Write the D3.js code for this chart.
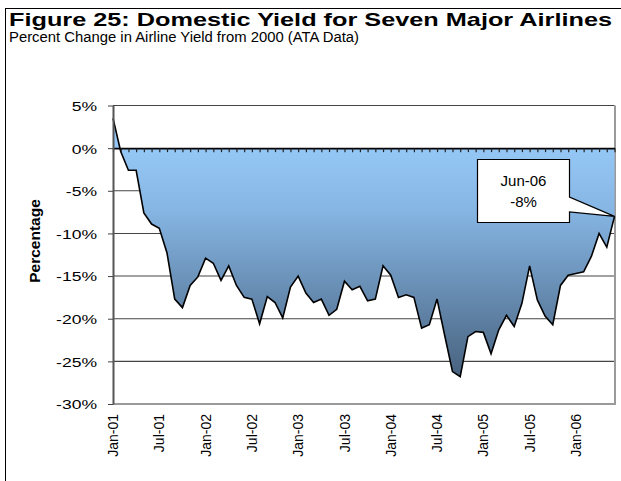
<!DOCTYPE html>
<html>
<head>
<meta charset="utf-8">
<script src="https://cdn.jsdelivr.net/npm/d3@7"></script>
<style>
  html, body { margin: 0; padding: 0; background: #fff; }
  svg { display: block; font-family: "Liberation Sans", Arial, sans-serif; }
</style>
</head>
<body>
<svg id="chart" width="621" height="481"></svg>
<script>
// Monthly categories, Jan-01 through Jun-06
const months = [
  "Jan-01","Feb-01","Mar-01","Apr-01","May-01","Jun-01","Jul-01","Aug-01","Sep-01","Oct-01","Nov-01","Dec-01",
  "Jan-02","Feb-02","Mar-02","Apr-02","May-02","Jun-02","Jul-02","Aug-02","Sep-02","Oct-02","Nov-02","Dec-02",
  "Jan-03","Feb-03","Mar-03","Apr-03","May-03","Jun-03","Jul-03","Aug-03","Sep-03","Oct-03","Nov-03","Dec-03",
  "Jan-04","Feb-04","Mar-04","Apr-04","May-04","Jun-04","Jul-04","Aug-04","Sep-04","Oct-04","Nov-04","Dec-04",
  "Jan-05","Feb-05","Mar-05","Apr-05","May-05","Jun-05","Jul-05","Aug-05","Sep-05","Oct-05","Nov-05","Dec-05",
  "Jan-06","Feb-06","Mar-06","Apr-06","May-06","Jun-06"
];

// Percent change in domestic yield versus 2000
const yieldChange = [
   3.5, -0.4, -2.6, -2.6, -7.6, -8.9, -9.4, -12.3, -17.7, -18.7, -16.1, -15.1,
  -12.9, -13.5, -15.5, -13.8, -16.1, -17.5, -17.7, -20.6, -17.4, -18.1, -19.9, -16.3,
  -15.0, -17.0, -18.1, -17.7, -19.6, -18.9, -15.6, -16.6, -16.2, -17.9, -17.7, -13.8,
  -14.9, -17.5, -17.2, -17.5, -21.1, -20.7, -17.7, -22.0, -26.2, -26.8, -22.1, -21.5,
  -21.6, -24.1, -21.3, -19.6, -20.9, -18.2, -13.8, -17.8, -19.7, -20.7, -16.1, -14.9,
  -14.7, -14.5, -12.7, -10.0, -11.6, -8.0
];

// Axis labels
const xTickLabels = ["Jan-01","Jul-01","Jan-02","Jul-02","Jan-03","Jul-03","Jan-04","Jul-04","Jan-05","Jul-05","Jan-06"];
const yTicks = [5, 0, -5, -10, -15, -20, -25, -30];

const svg = d3.select("#chart");

const plot = { left: 113, right: 614.5, top: 105.5, bottom: 404 };

const x = d3.scalePoint().domain(months).range([plot.left, plot.right]).padding(0);
const y = d3.scaleLinear().domain([-30, 5]).range([plot.bottom, plot.top]);

// Outer frame
svg.append("rect")
  .attr("x", 5.5).attr("y", 8.5).attr("width", 700).attr("height", 600)
  .attr("fill", "none").attr("stroke", "#000").attr("stroke-width", 1);

// Titles
svg.append("text")
  .attr("x", 9).attr("y", 26)
  .attr("font-size", 19).attr("font-weight", "bold")
  .attr("textLength", 603).attr("lengthAdjust", "spacingAndGlyphs")
  .text("Figure 25: Domestic Yield for Seven Major Airlines");

svg.append("text")
  .attr("x", 9).attr("y", 42)
  .attr("font-size", 14)
  .attr("textLength", 350).attr("lengthAdjust", "spacingAndGlyphs")
  .text("Percent Change in Airline Yield from 2000 (ATA Data)");

// Gradient for the area fill
const vMax = d3.max(yieldChange), vMin = d3.min(yieldChange);
const grad = svg.append("defs").append("linearGradient")
  .attr("id", "areaFill")
  .attr("gradientUnits", "userSpaceOnUse")
  .attr("x1", 0).attr("x2", 0)
  .attr("y1", y(vMax)).attr("y2", y(vMin));
grad.append("stop").attr("offset", 0).attr("stop-color", "#9dd0ff");
grad.append("stop").attr("offset", 0.35).attr("stop-color", "#86b6e4");
grad.append("stop").attr("offset", 1).attr("stop-color", "#48627f");

// Horizontal gridlines
svg.append("g").selectAll("line")
  .data(yTicks.filter(d => d !== 0 && d !== -30))
  .join("line")
  .attr("x1", plot.left).attr("x2", plot.right)
  .attr("y1", d => y(d)).attr("y2", d => y(d))
  .attr("stroke", "#444").attr("stroke-width", 1.1);

// Plot border (right and bottom)
svg.append("path")
  .attr("d", `M${plot.right + 0.5},${y(5)}V${y(-30)}H${plot.left}`)
  .attr("fill", "none").attr("stroke", "#9a9a9a").attr("stroke-width", 2);

// Area and outline
const area = d3.area()
  .x((d, i) => x(months[i]))
  .y0(y(0))
  .y1(d => y(d));
svg.append("path")
  .datum(yieldChange)
  .attr("d", area)
  .attr("fill", "url(#areaFill)");

const line = d3.line()
  .x((d, i) => x(months[i]))
  .y(d => y(d));
svg.append("path")
  .datum(yieldChange)
  .attr("d", line)
  .attr("fill", "none").attr("stroke", "#000").attr("stroke-width", 1.6)
  .attr("stroke-linejoin", "miter");

// Category axis along 0%
const xAxis = svg.append("g")
  .attr("transform", `translate(0,${y(0)})`)
  .call(d3.axisBottom(x).tickSize(4).tickSizeOuter(0).tickFormat(""));
xAxis.select(".domain").attr("stroke", "#000").attr("stroke-width", 1.6);
xAxis.selectAll(".tick line").attr("stroke", "#222").attr("stroke-width", 1.2);

// Value axis
const yAxis = svg.append("g")
  .attr("transform", `translate(${plot.left},0)`)
  .call(d3.axisLeft(y).tickValues(yTicks).tickSize(5).tickSizeOuter(0).tickFormat(d => d + "%"));
yAxis.select(".domain").attr("stroke", "#555").attr("stroke-width", 2);
yAxis.selectAll(".tick line").attr("stroke", "#444");
yAxis.selectAll(".tick text")
  .attr("x", 0).attr("dy", "0.36em")
  .attr("font-family", "Liberation Sans, Arial, sans-serif")
  .attr("font-size", 13.5).attr("fill", "#000")
  .attr("transform", "translate(-16,0) scale(1.3,1)");

// Rotated month labels
svg.append("g").selectAll("text")
  .data(xTickLabels)
  .join("text")
  .attr("transform", d => `translate(${x(d)},414) rotate(-90)`)
  .attr("text-anchor", "end")
  .attr("dy", "0.36em")
  .attr("font-size", 14)
  .text(d => d);

// Axis title
svg.append("text")
  .attr("transform", "translate(34,241) rotate(-90)")
  .attr("text-anchor", "middle")
  .attr("dy", "0.36em")
  .attr("font-size", 15.5).attr("font-weight", "bold")
  .text("Percentage");

// Callout for the latest month
const lastIdx = months.length - 1;
const lastVal = yieldChange[lastIdx];
const px = x(months[lastIdx]), py = y(lastVal);
const box = { x0: 477.5, y0: 159.5, x1: 569.5, y1: 222.5 };
svg.append("path")
  .attr("d", `M${box.x0},${box.y0}H${box.x1}V197L${px},${py}L${box.x1},212V${box.y1}H${box.x0}Z`)
  .attr("fill", "#fff").attr("stroke", "#000").attr("stroke-width", 1.2);
svg.append("text")
  .attr("x", (box.x0 + box.x1) / 2).attr("y", 186)
  .attr("text-anchor", "middle").attr("font-size", 15)
  .text(months[lastIdx]);
svg.append("text")
  .attr("x", (box.x0 + box.x1) / 2).attr("y", 207)
  .attr("text-anchor", "middle").attr("font-size", 15)
  .text(Math.round(lastVal) + "%");
</script>
</body>
</html>
